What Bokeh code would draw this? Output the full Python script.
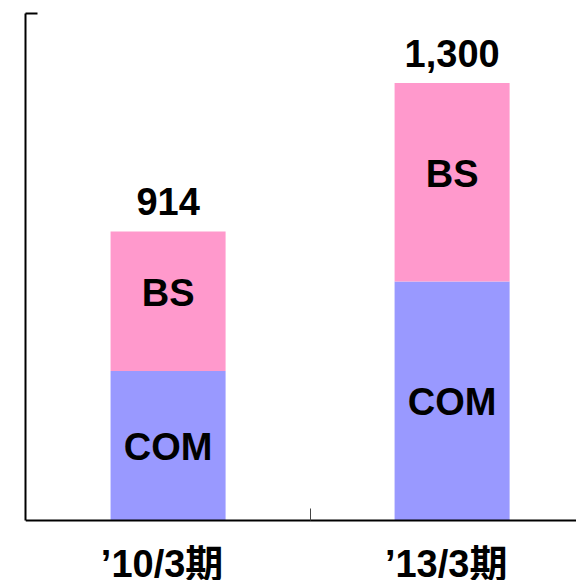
from bokeh.plotting import figure
from bokeh.models import Range1d, FixedTicker, ColumnDataSource
from bokeh.core.properties import value
from bokeh.embed import file_html
from bokeh.resources import INLINE

# Fiscal periods and segment values (COM at the bottom, BS stacked on top)
periods = ["’10/3期", "’13/3期"]
com = [551, 784]
bs = [363, 516]
segments = ["COM", "BS"]

totals = [c + b for c, b in zip(com, bs)]
total_labels = [f"{t:,}" for t in totals]

# value axis: truncated at Y_BASE; the frame reaches a little lower so the
# period names under the baseline stay inside the plot area
Y_BASE, Y_END, Y_BOTTOM = 162, 1481, 6
x = [i + 0.5 for i in range(len(periods))]
dividers = [i + 1.0 for i in range(len(periods) - 1)]
LABEL_SHIFT = -0.021  # period names sit slightly left of the bar centres
label_x = [round(v + LABEL_SHIFT, 3) for v in x]

source = ColumnDataSource(dict(
    x=x,
    com=com,
    bs=bs,
    total=totals,
    total_label=total_labels,
    com_mid=[(Y_BASE + c) / 2 for c in com],
    bs_mid=[c + b / 2 for c, b in zip(com, bs)],
    com_name=[segments[0]] * len(periods),
    bs_name=[segments[1]] * len(periods),
))

FONT = "Liberation Sans"
COLORS = ["#9999FF", "#FF99CC"]

p = figure(
    width=576, height=580,
    x_range=Range1d(-0.002, 1.938),
    y_range=Range1d(Y_BOTTOM, Y_END),
    output_backend="svg", toolbar_location=None,
    min_border_left=25, min_border_right=0,
    min_border_top=13, min_border_bottom=0,
)
p.outline_line_color = None
p.xgrid.visible = False
p.ygrid.visible = False
p.background_fill_color = "white"
p.border_fill_color = "white"

# stacked bars: COM from the baseline, BS on top of COM
p.vbar(x="x", bottom=Y_BASE, top="com", width=0.405, color=COLORS[0],
       line_color=None, source=source)
p.vbar(x="x", bottom="com", top="total", width=0.405, color=COLORS[1],
       line_color=None, source=source)

text_style = dict(text_font=value(FONT), text_font_style="bold",
                  text_font_size="38px", text_color="black",
                  text_align="center")

# totals above each bar
p.text(x="x", y="total", text="total_label", source=source,
       text_baseline="alphabetic", y_offset=-30, **text_style)

# segment names inside the bars
p.text(x="x", y="com_mid", text="com_name", source=source,
       text_baseline="middle", y_offset=1, **text_style)
p.text(x="x", y="bs_mid", text="bs_name", source=source,
       text_baseline="middle", y_offset=-8, **text_style)

# left axis: plain line from the baseline up, with one inward tick at the top
ya = p.yaxis[0]
ya.bounds = (Y_BASE, Y_END)
ya.ticker = FixedTicker(ticks=[], minor_ticks=[Y_END])
ya.major_tick_in = 0
ya.major_tick_out = 0
ya.minor_tick_in = 12
ya.minor_tick_out = 0
ya.major_label_standoff = 0
ya.axis_line_width = 2
ya.axis_line_color = "black"
ya.minor_tick_line_width = 2
ya.minor_tick_line_color = "black"

# bottom axis pinned to the baseline: period names plus a divider tick
xa = p.xaxis[0]
xa.fixed_location = Y_BASE
xa.ticker = FixedTicker(ticks=label_x, minor_ticks=dividers)
xa.major_label_overrides = {lx: name for lx, name in zip(label_x, periods)}
xa.major_tick_in = 0
xa.major_tick_out = 0
xa.major_tick_line_color = None
xa.minor_tick_in = 12
xa.minor_tick_out = 0
xa.minor_tick_line_width = 1
xa.minor_tick_line_color = "#444444"
xa.axis_line_width = 2
xa.axis_line_color = "black"
xa.major_label_standoff = 22
xa.major_label_text_font = f"{FONT}, Noto Sans CJK JP"
xa.major_label_text_font_style = "bold"
xa.major_label_text_font_size = "38px"
xa.major_label_text_color = "black"

open("out.html", "w").write(file_html(p, INLINE))
